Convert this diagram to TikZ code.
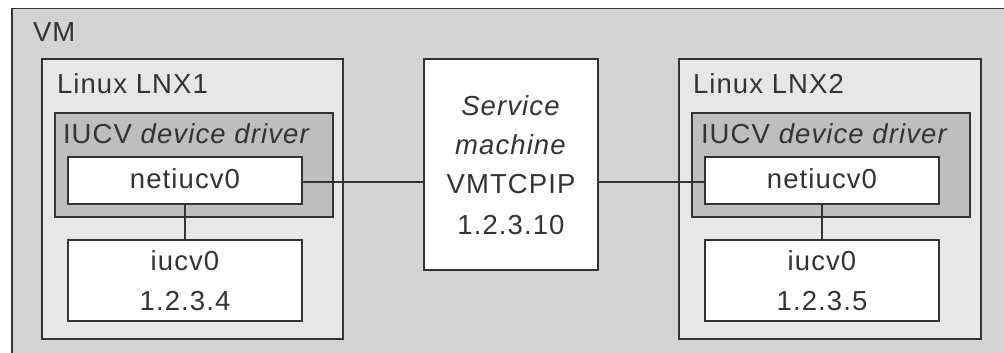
\documentclass[tikz,border=0pt]{standalone}
\usepackage{fontspec}
\setmainfont{Liberation Sans}[LetterSpace=4]
\definecolor{lc}{HTML}{333333}
\definecolor{vmfill}{HTML}{D1D3D4}
\definecolor{lnxfill}{HTML}{E6E7E8}
\definecolor{drvfill}{HTML}{BCBEC0}
\tikzset{
  bx/.style={draw=lc, line width=1.3pt, inner sep=0pt, outer sep=0pt, rectangle},
  vmbox/.style={bx, fill=vmfill},
  lnxbox/.style={bx, fill=lnxfill},
  drvbox/.style={bx, fill=drvfill},
  wbox/.style={bx, fill=white},
  lbl/.style={inner sep=0pt, outer sep=0pt, text=lc, font=\fontsize{27.5}{39}\selectfont},
  conn/.style={draw=lc, line width=1.3pt},
}
\begin{document}
\begin{tikzpicture}[x=1pt,y=-1pt]
\useasboundingbox (0,0) rectangle (1004,353);
\clip (0,0) rectangle (1004,353);
\fill[white] (0,0) rectangle (1004,353);
% VM
\node[vmbox, minimum width=1002pt, minimum height=354.5pt] (vm) at (513,185.75) {};
\node[lbl, anchor=base west] (vmt) at (33,42) {VM};
% LNX1
\node[lnxbox, minimum width=301pt, minimum height=280pt] (lnx1) at (192.5,199) {};
\node[lbl, anchor=base west] (lnx1t) at (57,93) {Linux LNX1};
\node[drvbox, minimum width=278pt, minimum height=104pt] (drv1) at (194,165) {};
\node[lbl, anchor=base west] (drv1t) at (63,143) {IUCV \textit{device driver}};
\node[wbox, minimum width=234pt, minimum height=47pt] (net1) at (185,180.5) {};
\node[lbl, anchor=base] (net1t) at (185,188.5) {netiucv0};
\node[wbox, minimum width=234pt, minimum height=81pt] (iu1) at (185,280.5) {};
\node[lbl, anchor=base] (iu1a) at (185,270) {iucv0};
\node[lbl, anchor=base] (iu1b) at (185,310) {1.2.3.4};
% Service
\node[wbox, minimum width=174pt, minimum height=211pt] (svc) at (511,164.5) {};
\node[lbl, anchor=base] (s1) at (511,115) {\textit{Service}};
\node[lbl, anchor=base] (s2) at (511,154) {\textit{machine}};
\node[lbl, anchor=base] (s3) at (511,193) {VMTCPIP};
\node[lbl, anchor=base] (s4) at (511,234) {1.2.3.10};
% LNX2
\node[lnxbox, minimum width=302pt, minimum height=280pt] (lnx2) at (830,199) {};
\node[lbl, anchor=base west] (lnx2t) at (693,93) {Linux LNX2};
\node[drvbox, minimum width=278pt, minimum height=104pt] (drv2) at (831,165) {};
\node[lbl, anchor=base west] (drv2t) at (701,143) {IUCV \textit{device driver}};
\node[wbox, minimum width=234pt, minimum height=47pt] (net2) at (822,180.5) {};
\node[lbl, anchor=base] (net2t) at (822,188.5) {netiucv0};
\node[wbox, minimum width=234pt, minimum height=81pt] (iu2) at (822,280.5) {};
\node[lbl, anchor=base] (iu2a) at (822,270) {iucv0};
\node[lbl, anchor=base] (iu2b) at (822,310) {1.2.3.5};
% connectors
\draw[conn] ([yshift=-1.5pt]net1.east) -- ([yshift=-1.5pt]net1.east -| svc.west);
\draw[conn] ([yshift=-1.5pt]net2.west -| svc.east) -- ([yshift=-1.5pt]net2.west);
\draw[conn] (net1.south) -- (iu1.north);
\draw[conn] (net2.south) -- (iu2.north);
\end{tikzpicture}
\end{document}
